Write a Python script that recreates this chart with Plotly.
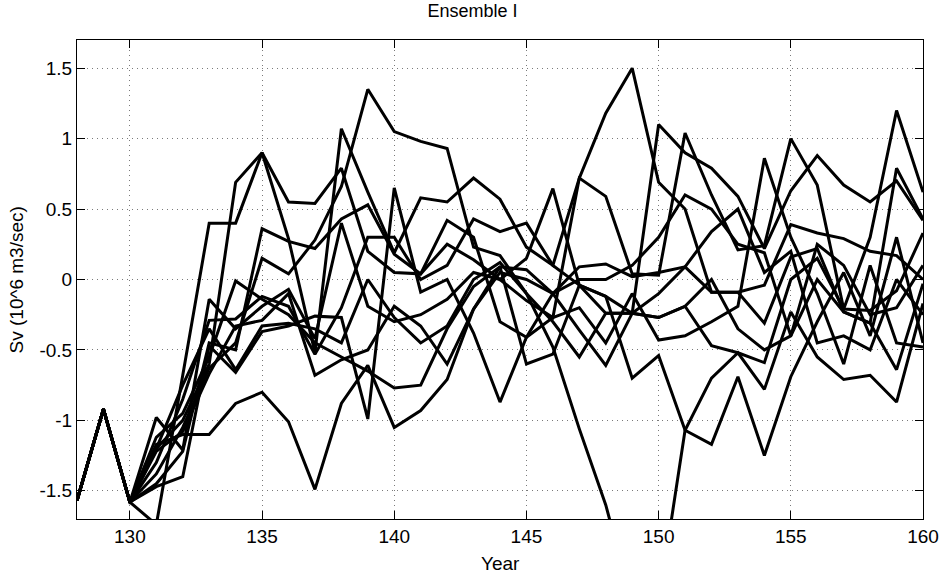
import plotly.graph_objects as go

years = list(range(128, 161))
base = [-1.57, -0.92, -1.58]

m_a = base + [-1.74, -0.68, 0.40, 0.40, 0.90, 0.55, 0.54, 0.79, 0.20, 0.05, 0.04, 0.42, 0.30, -0.30, -0.41, -0.10, -0.36, -0.61, -0.24, 1.10, 0.90, 0.79, 0.59, 0.22, 0.63, 0.88, 0.67, 0.55, 0.70, 0.42]
m_b = base + [-1.20, -1.00, -0.60, 0.69, 0.90, 0.29, -0.52, 1.07, 0.62, 0.19, 0.58, 0.55, 0.72, 0.57, 0.23, 0.10, 0.72, 0.59, 0.04, 0.03, 1.04, 0.60, 0.21, 0.24, 1.00, 0.67, -0.21, -0.22, -0.08, 0.33]
m_c = base + [-1.45, -1.22, -0.45, -0.50, 0.36, 0.27, 0.22, 0.43, 0.53, 0.18, 0.04, 0.25, 0.14, 0.00, 0.15, 0.645, -0.04, -0.12, -0.70, -0.54, -1.07, -1.17, -0.69, -1.25, -0.69, -0.30, 0.05, -0.40, 0.30, -0.45]
m_d = base + [-1.38, -1.05, -0.63, -0.45, 0.15, 0.04, 0.28, 0.66, 1.35, 1.05, 0.98, 0.93, 0.23, 0.17, -0.10, -0.48, -1.06, -1.60, -2.30, -2.30, -1.07, -0.70, -0.52, -0.78, -0.23, -0.55, -0.71, -0.68, -0.87, -0.17]
m_e = base + [-1.12, -0.95, -0.55, -0.01, -0.14, -0.25, -0.45, -0.55, -0.65, -0.77, -0.75, -0.35, -0.05, 0.09, 0.07, -0.10, 0.09, 0.11, 0.02, 0.05, 0.09, -0.09, -0.09, -0.04, 0.39, 0.33, 0.29, 0.20, 0.17, 0.00]
m_f = base + [-0.98, -1.21, -0.14, -0.35, -0.19, -0.07, -0.42, 0.40, -0.19, -0.30, -0.25, -0.14, 0.05, 0.00, -0.15, -0.27, 0.72, 1.18, 1.50, 0.69, 0.50, -0.09, -0.09, -0.31, 0.16, 0.22, -0.23, -0.31, -0.64, -0.03]
m_g = base + [-1.30, -0.85, -0.29, -0.28, -0.12, -0.19, -0.53, -0.20, 0.30, 0.30, 0.00, 0.10, 0.43, 0.34, 0.40, 0.10, -0.04, -0.24, -0.24, -0.27, -0.19, -0.47, -0.52, -0.59, 0.00, 0.15, -0.21, 0.30, 1.20, 0.62]
m_h = base + [-1.47, -1.40, -0.47, -0.66, -0.37, -0.33, -0.26, -0.27, -0.99, 0.65, -0.09, 0.00, -0.38, -0.87, -0.41, -0.27, -0.20, -0.45, -0.10, -0.43, -0.40, -0.30, -0.19, 0.86, 0.30, -0.10, -0.60, 0.10, -0.45, -0.48]
m_j = base + [-1.22, -1.08, -0.67, -0.33, -0.29, -0.10, -0.68, -0.57, -0.50, -0.19, -0.33, -0.60, -0.21, 0.05, 0.00, -0.10, 0.00, 0.00, 0.10, 0.30, 0.60, 0.50, 0.25, 0.19, -0.40, 0.25, 0.10, -0.25, -0.20, 0.10]
m_k = base + [-1.20, -0.75, -0.35, -0.64, -0.33, -0.31, -0.35, -0.45, 0.00, -0.27, -0.45, -0.33, 0.00, 0.12, -0.10, -0.30, -0.55, -0.24, -0.24, -0.10, 0.09, 0.34, 0.50, 0.05, 0.20, -0.45, -0.40, -0.50, 0.00, -0.25]
m_l = base + [-1.17, -1.10, -1.10, -0.88, -0.80, -1.01, -1.49, -0.88, -0.61, -1.05, -0.93, -0.71, -0.21, 0.09, -0.60, -0.53, -0.04, -0.12, -0.24, -0.27, -0.19, 0.00, -0.35, -0.50, -0.40, 0.00, -0.23, -0.31, 0.79, 0.43]

members = [m_a, m_b, m_c, m_d, m_e, m_f, m_g, m_h, m_j, m_k, m_l]

x_ticks = [130, 135, 140, 145, 150, 155, 160]
y_ticks = [-1.5, -1, -0.5, 0, 0.5, 1, 1.5]
y_tick_text = ["-1.5", "-1", "-0.5", "0", "0.5", "1", "1.5"]

fig = go.Figure()
for m in members:
    fig.add_trace(go.Scatter(x=years, y=m, mode="lines",
                             line=dict(color="black", width=3),
                             showlegend=False, hoverinfo="skip"))

font_family = "Liberation Sans, Arial, Helvetica, sans-serif"
axis_common = dict(
    showline=True, linecolor="black", linewidth=1, mirror="ticks",
    ticks="inside", ticklen=8, tickcolor="black",
    showgrid=True, gridcolor="#7a7a7a", griddash="1px,4px", gridwidth=1,
    zeroline=False, tickfont=dict(family=font_family, size=19, color="black"),
)

fig.update_layout(
    width=945, height=575,
    margin=dict(l=77, r=22, t=40, b=56, autoexpand=False),
    paper_bgcolor="white", plot_bgcolor="white",
    title=dict(text="Ensemble I", x=0.5, xanchor="center", y=0.992, yanchor="top",
               font=dict(family=font_family, size=18, color="black")),
    xaxis=dict(range=[128, 160], tickvals=x_ticks, ticktext=[str(v) for v in x_ticks],
               **axis_common),
    yaxis=dict(range=[-1.7, 1.7], tickvals=y_ticks, ticktext=y_tick_text,
               **axis_common),
    font=dict(family=font_family, color="black"),
    annotations=[
        dict(text="Year", xref="paper", yref="paper", x=0.5, y=-0.092,
             xanchor="center", yanchor="middle", showarrow=False,
             font=dict(family=font_family, size=19, color="black")),
        dict(text="Sv (10^6 m3/sec)", xref="paper", yref="paper", x=-0.071, y=0.5,
             xanchor="center", yanchor="middle", textangle=-90, showarrow=False,
             font=dict(family=font_family, size=19, color="black")),
    ],
)

fig.write_html("out.html")
